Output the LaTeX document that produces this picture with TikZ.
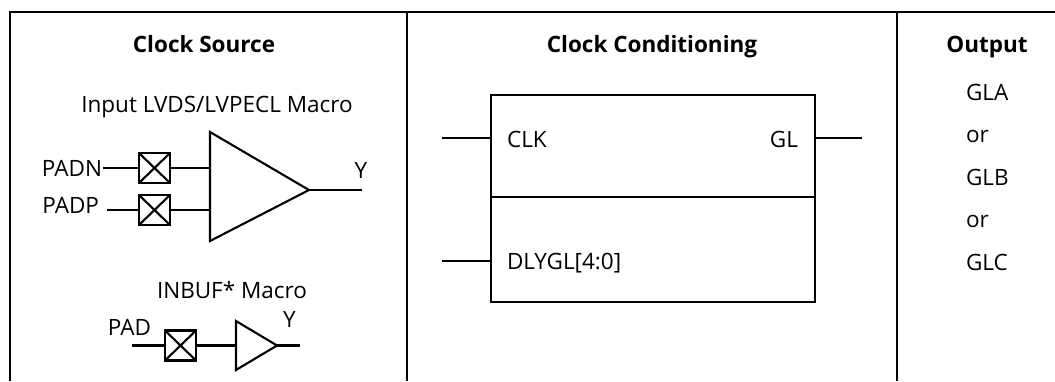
\documentclass[tikz,border=0pt]{standalone}
\usepackage{fontspec}
\setmainfont{Open Sans}
\begin{document}
\begin{tikzpicture}[x=1pt,y=-1pt,line width=2.1pt,
    lbl/.style={inner sep=0pt,font=\fontsize{22.5}{26}\selectfont},
    head/.style={inner sep=0pt,font=\fontsize{22.5}{26}\selectfont\bfseries},
    padbox/.style={draw,minimum width=31pt,minimum height=30pt,inner sep=0pt,
      path picture={\draw (path picture bounding box.north west) -- (path picture bounding box.south east)
        (path picture bounding box.south west) -- (path picture bounding box.north east);}}]
    \useasboundingbox (0,0) rectangle (1055,381);

    % frame and columns
    \draw (10,381) -- (10,12) -- (1055,12);
    \draw (407,12) -- (407,381);
    \draw (897,12) -- (897,381);
    \node[head,anchor=base] (hsrc) at (204,52) {Clock Source};
    \node[head,anchor=base] (hcc) at (652,52) {Clock Conditioning};
    \node[head,anchor=base] (hout) at (987,52) {Output};

    % differential input
    \node[lbl,anchor=base] (hdiff) at (217,112) {Input LVDS/LVPECL Macro};
    \node[lbl,anchor=base east] (padn) at (103,176) {PADN};
    \node[lbl,anchor=base east] (padp) at (100,213) {PADP};
    \node[padbox] (bxn) at (154.5,168) {};
    \node[padbox] (bxp) at (154.5,210) {};
    \draw (210,132) -- (309,190) -- (210,241) -- cycle;
    \coordinate (dn) at (210,168); \coordinate (dp) at (210,210);
    \coordinate (dy) at (309,190); \coordinate (dyend) at (362,190);
    \draw (bxn.west -| padn.east) -- (bxn.west); \draw (bxn.east) -- (dn);
    \draw (bxp.west -| 107,0) -- (bxp.west); \draw (bxp.east) -- (dp);
    \draw (dy) -- (dyend);
    \node[lbl,anchor=base] (ydiff) at (361,178) {Y};

    % single ended input
    \node[lbl,anchor=base] (hbuf) at (232,298) {INBUF* Macro};
    \node[lbl,anchor=base] (pad) at (129.5,335) {PAD};
    \node[padbox] (bxs) at (180.5,345.5) {};
    \draw (236,321) -- (277,345.5) -- (236,370) -- cycle;
    \coordinate (sin) at (236,345.5); \coordinate (sy) at (277,345.5); \coordinate (syend) at (300,345.5);
    \draw (bxs.west) -- ++(-32,0); \draw (bxs.east) -- (sin);
    \draw (sy) -- (syend);
    \node[lbl,anchor=base] (ybuf) at (289.5,327) {Y};

    % conditioning block
    \node[draw,minimum width=324pt,minimum height=207pt,inner sep=0pt] (cc) at (653,198.5) {};
    \draw (cc.west |- 0,197) -- (cc.east |- 0,197);
    \node[lbl,anchor=base west] (clk) at (506,147) {CLK};
    \node[lbl,anchor=base east] (gl) at (799,147) {GL};
    \node[lbl,anchor=base west] (dly) at (506,269) {DLYGL[4:0]};
    \coordinate (clkin) at (442,138); \coordinate (dlyin) at (442,261); \coordinate (glout) at (862,138);
    \draw (clkin) -- (clkin -| cc.west);
    \draw (dlyin) -- (dlyin -| cc.west);
    \draw (glout -| cc.east) -- (glout);

    % outputs
    \foreach \t [count=\i from 0] in {GLA,or,GLB,or,GLC}
      \node[lbl,anchor=base west] (out\i) at (965,100+42.5*\i) {\t};
\end{tikzpicture}
\end{document}
